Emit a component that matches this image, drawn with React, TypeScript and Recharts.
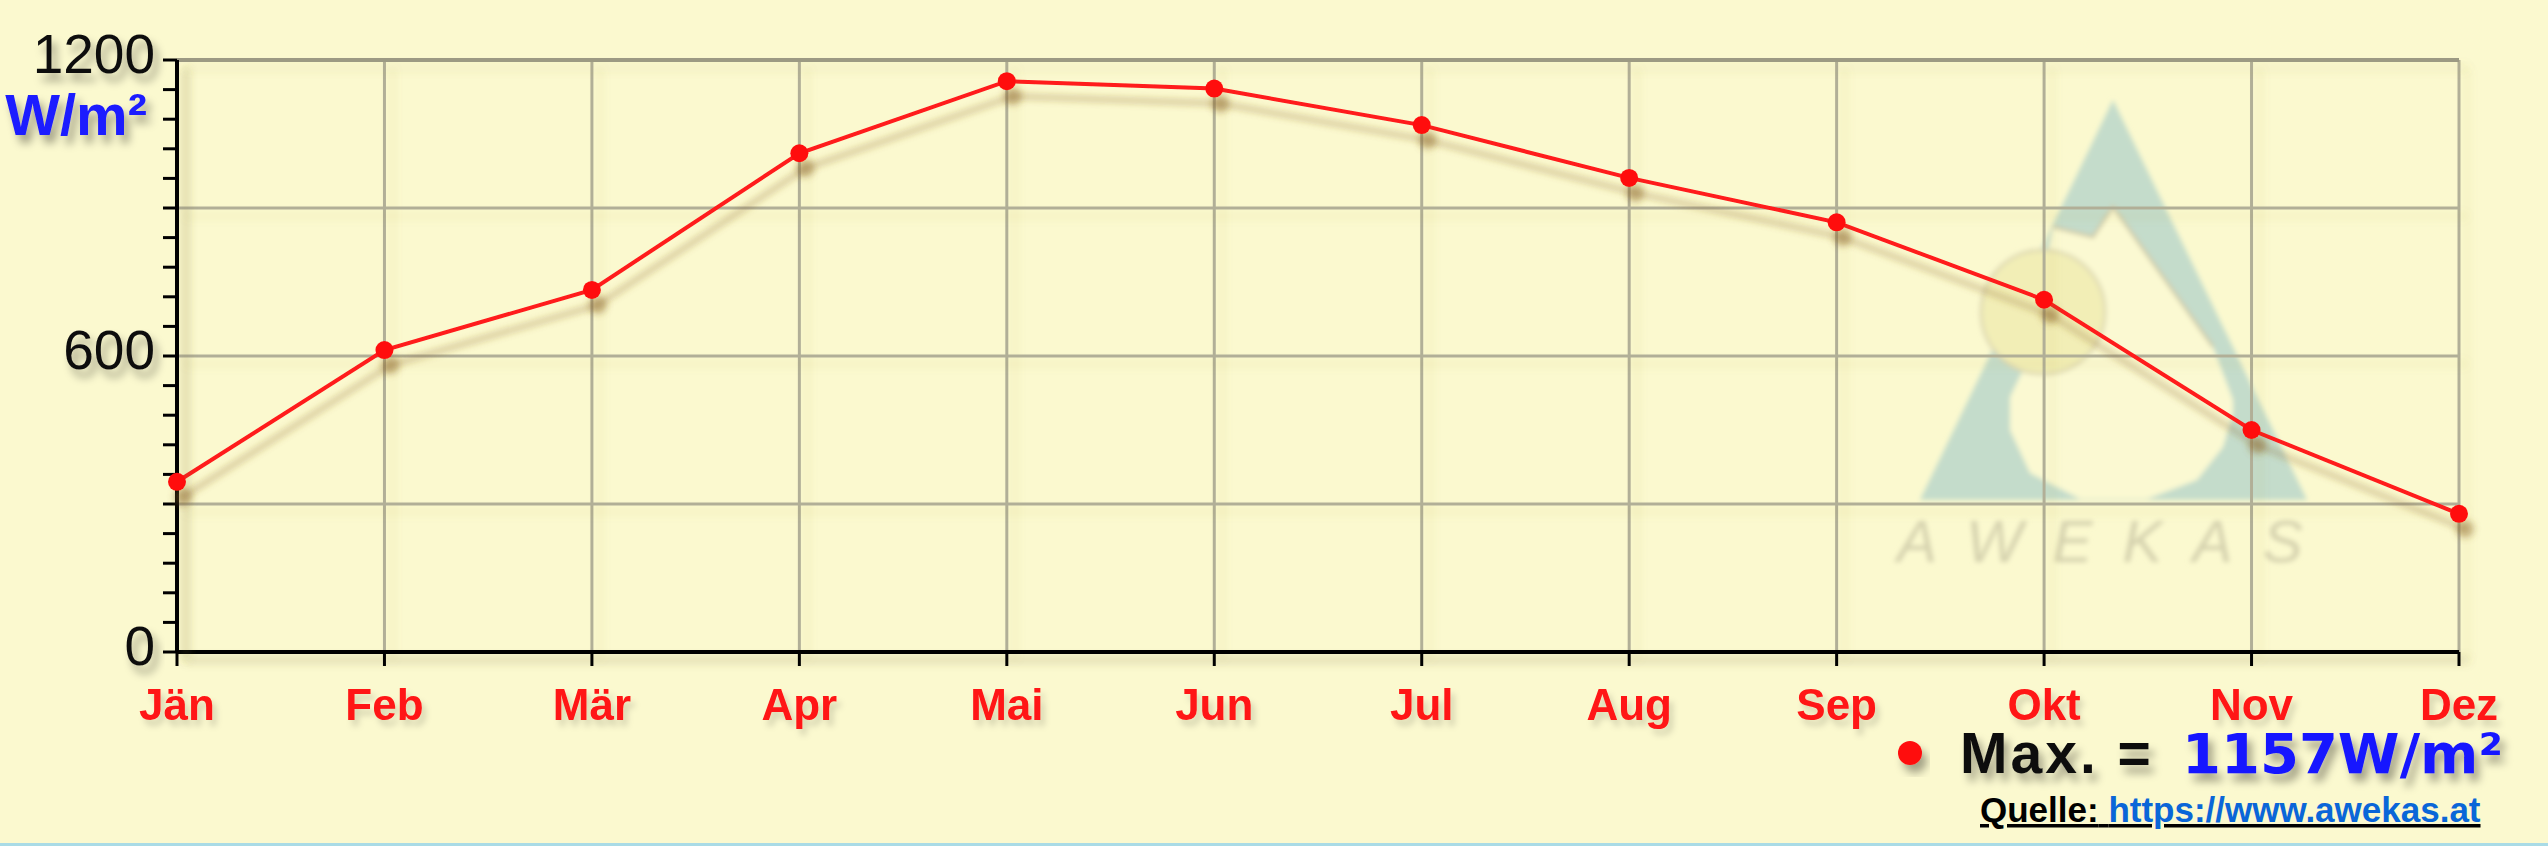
import React from 'react';
import { LineChart, Line, XAxis, YAxis, CartesianGrid, ReferenceLine } from 'recharts';

// ---- data ----
const months = ['Jän', 'Feb', 'Mär', 'Apr', 'Mai', 'Jun', 'Jul', 'Aug', 'Sep', 'Okt', 'Nov', 'Dez'];
const radiation = [345, 612, 734, 1011, 1157, 1142, 1068, 961, 871, 714, 450, 280];
const yTicks = [0, 60, 120, 180, 240, 300, 360, 420, 480, 540, 600, 660, 720, 780, 840, 900, 960, 1020, 1080, 1140, 1200];
const yLabelTicks = [0, 600, 1200];
const yGridValues = [300, 600, 900];
const yTop = 1200;
const unit = 'W/m²';
const maxLabel = 'Max. =';
const sourceLabel = 'Quelle:';
const sourceUrl = 'https://www.awekas.at';
const watermarkText = 'AWEKAS';

const data = months.map((m, i) => ({ month: m, value: radiation[i] }));
const maxValue = Math.max(...radiation);

const BG = '#FBF9CF';
const GRID = '#b1af97';

const YTick = (props: any) => {
  const { x, y, payload } = props;
  if (!yLabelTicks.includes(payload.value)) return <g />;
  return (
    <text x={x - 6} y={y + 13} textAnchor="end" fontSize={55}
      fontFamily="'Liberation Sans', Arial, sans-serif" fill="#111" filter="url(#textShadow)">
      {payload.value}
    </text>
  );
};

const XTick = (props: any) => {
  const { x, y, payload } = props;
  return (
    <text x={x} y={y + 52} textAnchor="middle" fontSize={44} fontWeight="bold"
      fontFamily="'Liberation Sans', Arial, sans-serif" fill="#ff1414" filter="url(#textShadowLight)">
      {payload.value}
    </text>
  );
};

const UnitLabel = (props: any) => {
  const vb = props.viewBox || {};
  return (
    <text x={vb.x + vb.width - 30} y={vb.y + 75} textAnchor="end" fontSize={58} fontWeight="bold"
      fontFamily="'Liberation Sans', Arial, sans-serif" fill="#1a1aff" filter="url(#textShadow)">
      {unit}
    </text>
  );
};

export default function App() {
  return (
    <div style={{ position: 'absolute', left: 0, top: 0, width: 2548, height: 850, background: BG, overflow: 'hidden' }}>
      <style>{`
        .recharts-line-curve { filter: url(#lineShadow); }
        .recharts-line-dots { filter: url(#lineShadow); }
        .recharts-cartesian-axis-line { filter: url(#axisShadow); }
        .recharts-cartesian-grid-vertical line { filter: url(#gridShadow); }
        .recharts-reference-line-line { filter: url(#gridShadow); }
      `}</style>
      {/* watermark + filter defs */}
      <svg width={2548} height={850} style={{ position: 'absolute', left: 0, top: 0 }}>
        <defs>
          <filter id="wmBlur" x="-10%" y="-10%" width="120%" height="120%">
            <feGaussianBlur stdDeviation="2.4" />
          </filter>
          <filter id="lineShadow" filterUnits="userSpaceOnUse" x={-50} y={-50} width={2700} height={1000}>
            <feDropShadow dx="6" dy="15" stdDeviation="3.5" floodColor="#8a6428" floodOpacity="0.45" />
          </filter>
          <filter id="axisShadow" filterUnits="userSpaceOnUse" x={-50} y={-50} width={2700} height={1000}>
            <feDropShadow dx="9" dy="8" stdDeviation="5" floodColor="#7a6a30" floodOpacity="0.35" />
          </filter>
          <filter id="gridShadow" filterUnits="userSpaceOnUse" x={-50} y={-50} width={2700} height={1000}>
            <feDropShadow dx="8" dy="8" stdDeviation="5" floodColor="#9a8a40" floodOpacity="0.15" />
          </filter>
          <filter id="textShadow" x="-20%" y="-30%" width="150%" height="180%">
            <feDropShadow dx="5" dy="8" stdDeviation="4" floodColor="#000" floodOpacity="0.35" />
          </filter>
          <filter id="textShadowLight" x="-20%" y="-30%" width="150%" height="180%">
            <feDropShadow dx="4" dy="6" stdDeviation="3" floodColor="#000" floodOpacity="0.15" />
          </filter>
        </defs>
        <g filter="url(#wmBlur)">
          <polygon points="2113,100 1920,500 2307,500" fill="#c4dccb" />
          <polygon points="2053,227 2093,237 2113,207 2213,347 2233,400 2233,413 2223,447 2197,480 2147,499 2080,499 2030,473 2010,430 2010,397 2023,370" fill="#fbf9d2" />
          <polyline points="2053,227 2093,237 2113,207 2213,347" stroke="#d0c9a6" strokeWidth={3} fill="none" />
          <circle cx={2043} cy={312} r={62} fill="#f2eeb6" stroke="#ddd8b2" strokeWidth={3} />
          <text x={1897} y={562} fontSize={60} fontStyle="italic" letterSpacing={30}
            fontFamily="'Liberation Sans', Arial, sans-serif" fill="#d5d2ae">{watermarkText}</text>
        </g>
      </svg>

      <div style={{ position: 'absolute', left: 0, top: 0 }}>
        <LineChart width={2548} height={850} data={data}
          margin={{ top: 60, right: 89, bottom: 138, left: 17 }}>
          <CartesianGrid horizontal={false} stroke={GRID} strokeWidth={3} />
          {yGridValues.map((v) => (
            <ReferenceLine key={v} y={v} stroke={GRID} strokeWidth={3} />
          ))}
          <ReferenceLine y={yTop} stroke="#9c9a83" strokeWidth={4} />
          <XAxis dataKey="month" interval={0} tickSize={14} height={60}
            axisLine={{ stroke: '#000', strokeWidth: 4 }}
            tickLine={{ stroke: '#000', strokeWidth: 3 }}
            tick={<XTick />} />
          <YAxis type="number" domain={[0, 1200]} ticks={yTicks} interval={0} width={160}
            tickSize={14} axisLine={{ stroke: '#000', strokeWidth: 4 }}
            tickLine={{ stroke: '#000', strokeWidth: 3 }}
            tick={<YTick />} label={<UnitLabel />} allowDataOverflow />
          <Line type="linear" dataKey="value" stroke="#ff1a1a" strokeWidth={4}
            dot={{ r: 9, fill: '#ff1010', stroke: 'none' }} isAnimationActive={false} />
        </LineChart>
      </div>

      {/* legend and source */}
      <svg width={2548} height={850} style={{ position: 'absolute', left: 0, top: 0, pointerEvents: 'none' }}>
        <circle cx={1910} cy={753} r={12} fill="#ff1010" filter="url(#textShadow)" />
        <text x={1960} y={773} fontSize={57} fontWeight="bold" letterSpacing={3}
          fontFamily="'Liberation Sans', Arial, sans-serif" fill="#111" filter="url(#textShadow)">
          {maxLabel}
        </text>
        <text x={2182} y={773} fontSize={56} fontWeight="bold"
          fontFamily="'DejaVu Sans', Verdana, sans-serif" fill="#1414ff" filter="url(#textShadow)">
          {`${maxValue}${unit}`}
        </text>
        <text x={1980} y={822} fontSize={35} fontWeight="bold" textDecoration="underline"
          fontFamily="'Liberation Sans', Arial, sans-serif" fill="#000">
          {sourceLabel}{' '}
          <tspan fill="#0a66d8">{sourceUrl}</tspan>
        </text>
      </svg>
      <div style={{ position: 'absolute', left: 0, top: 843, width: 2548, height: 3, background: '#a9dbe6' }} />
      <div style={{ position: 'absolute', left: 0, top: 846, width: 2548, height: 4, background: '#fff' }} />
    </div>
  );
}
